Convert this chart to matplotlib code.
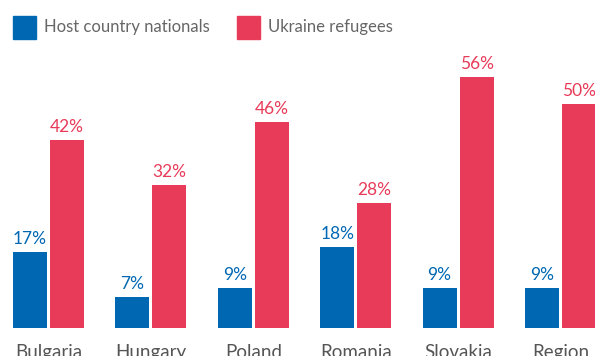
import matplotlib.pyplot as plt
import numpy as np

plt.rcParams['font.family'] = ['Lato', 'DejaVu Sans']

countries = ['Bulgaria', 'Hungary', 'Poland', 'Romania', 'Slovakia', 'Region']
host = [17, 7, 9, 18, 9, 9]
refugees = [42, 32, 46, 28, 56, 50]

blue = '#0068b3'
red = '#e83b59'
grey = '#666666'

fig = plt.figure(figsize=(5.95, 3.56), dpi=100)
ax = fig.add_axes([0, 28 / 356, 1, 328 / 356])

x = np.arange(len(countries))
w = 0.332
off = 0.181
ax.bar(x - off, host, width=w, color=blue)
ax.bar(x + off, refugees, width=w, color=red)

for xi, h, r in zip(x, host, refugees):
    ax.text(xi - off, h + 1.1, f'{h}%', ha='center', va='bottom',
            color=blue, fontsize=12.5)
    ax.text(xi + off, r + 1.1, f'{r}%', ha='center', va='bottom',
            color=red, fontsize=12.5)
    # country names below the baseline
for xi, c in zip(x, countries):
    ax.text(xi, -3.6, c, ha='center', va='top', color='#555555',
            fontsize=13.5, clip_on=False)

ax.set_xlim(-48.5 / 102.4, (595 - 48.5) / 102.4)
ax.set_ylim(0, 328 / 4.48)
ax.axis('off')

# legend swatches and labels
fig.patches.append(plt.Rectangle((13 / 595, 1 - 39 / 356), 23 / 595, 23 / 356,
                                 transform=fig.transFigure, color=blue))
fig.text(44 / 595, 1 - 27 / 356, 'Host country nationals', va='center',
         color=grey, fontsize=12)
fig.patches.append(plt.Rectangle((237 / 595, 1 - 39 / 356), 23 / 595, 23 / 356,
                                 transform=fig.transFigure, color=red))
fig.text(268 / 595, 1 - 27 / 356, 'Ukraine refugees', va='center',
         color=grey, fontsize=12)

fig.savefig('out.png', dpi=100)
